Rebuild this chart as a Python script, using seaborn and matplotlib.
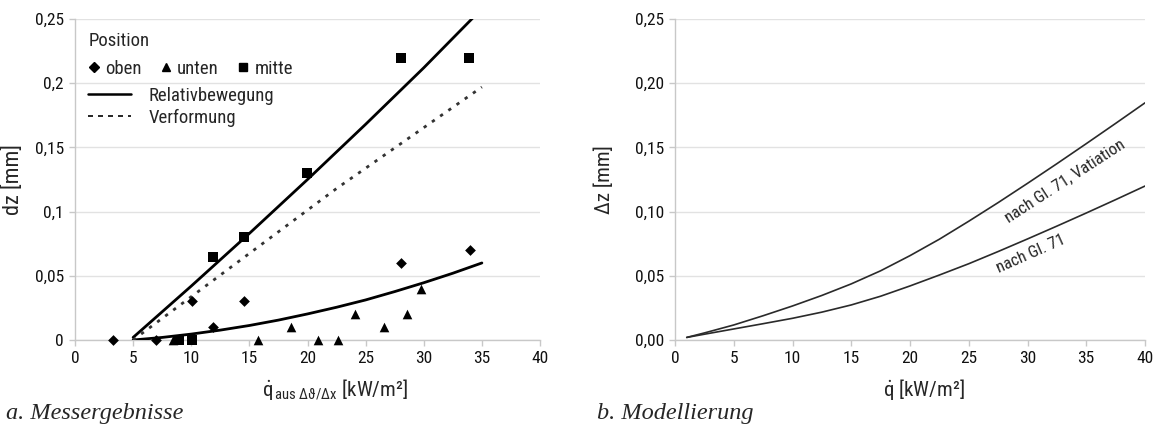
import numpy as np
import pandas as pd
import matplotlib
matplotlib.use("Agg")
import matplotlib.pyplot as plt
from matplotlib import font_manager as fm
from matplotlib.lines import Line2D
import seaborn as sns

# ---------------- data ----------------
# panel a: measurements
oben_x = [3.3, 7.0, 10.1, 11.85, 14.5, 28.0, 34.0]
oben_y = [0.0, 0.0, 0.03, 0.01, 0.03, 0.06, 0.07]
unten_x = [8.4, 15.7, 18.6, 20.9, 22.6, 24.1, 26.6, 28.6, 29.8]
unten_y = [0.0, 0.0, 0.01, 0.0, 0.0, 0.02, 0.01, 0.02, 0.04]
mitte_x = [8.95, 10.1, 11.85, 14.5, 19.95, 28.0, 33.9]
mitte_y = [0.0, 0.0, 0.065, 0.08, 0.13, 0.22, 0.22]

# trend lines panel a
rel_hi_x = [5, 10, 15, 20, 25, 30, 35]
rel_hi_y = [0.002, 0.042, 0.083, 0.125, 0.168, 0.212, 0.258]
rel_lo_x = [5, 7.5, 10, 12.5, 15, 17.5, 20, 22.5, 25, 27.5, 30, 32.5, 35]
rel_lo_y = [0.0, 0.002, 0.0046, 0.0077, 0.0113, 0.0155, 0.0203, 0.0255,
            0.0312, 0.0377, 0.0446, 0.052, 0.060]
verf_x = [5, 22.5, 35]
verf_y = [0.0, 0.118, 0.197]

# panel b: model curves
mod_x = [1, 2.5, 5, 7.5, 10, 12.5, 15, 17.5, 20, 22.5, 25, 27.5, 30, 32.5, 35, 37.5, 40]
mod_var_y = [0.002, 0.0055, 0.0117, 0.0189, 0.0265, 0.0347, 0.0437, 0.0539, 0.0657,
             0.0785, 0.0925, 0.107, 0.122, 0.1373, 0.1529, 0.1687, 0.1847]
mod_gl71_y = [0.002, 0.0045, 0.0086, 0.0127, 0.0169, 0.0217, 0.0273, 0.0341, 0.0421,
              0.0506, 0.0594, 0.0689, 0.0787, 0.0887, 0.0989, 0.1093, 0.1199]

left_yticks = [0, 0.05, 0.1, 0.15, 0.2, 0.25]
left_yticklabels = ["0", "0,05", "0,1", "0,15", "0,2", "0,25"]
right_yticklabels = ["0,00", "0,05", "0,10", "0,15", "0,20", "0,25"]
xticks = [0, 5, 10, 15, 20, 25, 30, 35, 40]

# ---------------- style ----------------
sns.set_theme(style="white")
names = {f.name for f in fm.fontManager.ttflist}
fam = "DejaVu Sans"
for cand in ["Liberation Sans Narrow", "Roboto Condensed", "Open Sans Condensed", "DejaVu Sans"]:
    if cand in names:
        fam = cand
        break
plt.rcParams["font.family"] = [fam, "DejaVu Sans"]
plt.rcParams["mathtext.fontset"] = "custom"
plt.rcParams["mathtext.rm"] = fam
plt.rcParams["mathtext.it"] = fam

W, H = 1157, 433
fig = plt.figure(figsize=(W / 100, H / 100), dpi=100)

def axes_px(x0, x1, y0, y1):
    return fig.add_axes([x0 / W, 1 - y1 / H, (x1 - x0) / W, (y1 - y0) / H])

axA = axes_px(75, 540, 19, 340)
axB = axes_px(675, 1145, 19, 340)

grid_c = "#e2e2e2"
for ax in (axA, axB):
    ax.set_xlim(0, 40)
    ax.set_ylim(0, 0.25)
    ax.set_xticks(xticks)
    ax.set_xticklabels([str(t) for t in xticks])
    ax.set_yticks(left_yticks)
    ax.yaxis.grid(True, color=grid_c, lw=1)
    ax.xaxis.grid(False)
    ax.set_axisbelow(True)
    for s in ["top", "right"]:
        ax.spines[s].set_visible(False)
    for s in ["left", "bottom"]:
        ax.spines[s].set_color("#c8c8c8")
        ax.spines[s].set_linewidth(1)
    ax.tick_params(axis="both", which="both", length=4, width=1, color="#c8c8c8",
                   labelsize=12.5, labelcolor="#111111", pad=4, direction="out",
                   bottom=True, left=True)

axA.set_yticklabels(left_yticklabels)
axB.set_yticklabels(right_yticklabels)

# ---------------- panel a ----------------
pts = pd.DataFrame({
    "x": oben_x + unten_x + mitte_x,
    "y": oben_y + unten_y + mitte_y,
    "Position": ["oben"] * len(oben_x) + ["unten"] * len(unten_x) + ["mitte"] * len(mitte_x),
})
marker_map = {"oben": "D", "unten": "^", "mitte": "s"}
size_map = {"oben": 30, "unten": 48, "mitte": 42}
for pos, grp in pts.groupby("Position"):
    sns.scatterplot(data=grp, x="x", y="y", marker=marker_map[pos], s=size_map[pos],
                    color="black", edgecolor="black", linewidth=0, ax=axA, legend=False,
                    zorder=4, clip_on=False)

sns.lineplot(x=rel_hi_x, y=rel_hi_y, ax=axA, color="black", lw=2.0, zorder=3)
sns.lineplot(x=rel_lo_x, y=rel_lo_y, ax=axA, color="black", lw=2.0, zorder=3)
sns.lineplot(x=verf_x, y=verf_y, ax=axA, color="#333333", lw=2.0, zorder=3,
             linestyle=(0, (1.2, 2.4)))

# legend
h_pts = [Line2D([], [], marker="D", ls="none", color="black", markersize=5),
         Line2D([], [], marker="^", ls="none", color="black", markersize=6),
         Line2D([], [], marker="s", ls="none", color="black", markersize=5.5)]
leg1 = axA.legend(h_pts, ["oben", "unten", "mitte"], ncol=3, title="Position",
                  loc="upper left", bbox_to_anchor=(0.0, 1.0), frameon=False,
                  fontsize=13.5, title_fontsize=13.5, handlelength=0.6, handletextpad=0.3,
                  columnspacing=1.0, borderaxespad=0.3)
leg1._legend_box.align = "left"
axA.add_artist(leg1)
h_lines = [Line2D([], [], color="black", lw=1.8),
           Line2D([], [], color="black", lw=1.2, ls=(0, (3, 3)))]
axA.legend(h_lines, ["Relativbewegung", "Verformung"], loc="upper left",
           bbox_to_anchor=(0.0, 0.83), frameon=False, fontsize=13.5,
           handlelength=2.3, handletextpad=0.9, labelspacing=0.2, borderaxespad=0.3)

axA.set_xlabel(r"$\dot{\mathrm{q}}_{\,\mathrm{aus}\ \Delta\vartheta/\Delta x}$ [kW/m²]", fontsize=15)
axA.xaxis.set_label_coords(0.56, -0.115)
axA.set_ylabel("dz [mm]", fontsize=16)
axA.yaxis.set_label_coords(-0.11, 0.5)

# ---------------- panel b ----------------
sns.lineplot(x=mod_x, y=mod_var_y, ax=axB, color="#2a2a2a", lw=1.2)
sns.lineplot(x=mod_x, y=mod_gl71_y, ax=axB, color="#2a2a2a", lw=1.2)
axB.text(33.2, 0.124, "nach Gl. 71, Vatiation", rotation=33, fontsize=12,
         ha="center", va="center", rotation_mode="anchor")
axB.text(30.3, 0.067, "nach Gl. 71", rotation=24, fontsize=12,
         ha="center", va="center", rotation_mode="anchor")
axB.set_xlabel(r"$\dot{\mathrm{q}}$ [kW/m²]", fontsize=15)
axB.xaxis.set_label_coords(0.53, -0.115)
axB.set_ylabel("Δz [mm]", fontsize=15)
axB.yaxis.set_label_coords(-0.13, 0.5)

# captions
fig.text(6 / W, 1 - 413 / H, "a. Messergebnisse", family="Liberation Serif",
         style="italic", fontsize=17.5, ha="left", va="center")
fig.text(597 / W, 1 - 413 / H, "b. Modellierung", family="Liberation Serif",
         style="italic", fontsize=17.5, ha="left", va="center")

fig.savefig("out.png", dpi=100, facecolor="white")
